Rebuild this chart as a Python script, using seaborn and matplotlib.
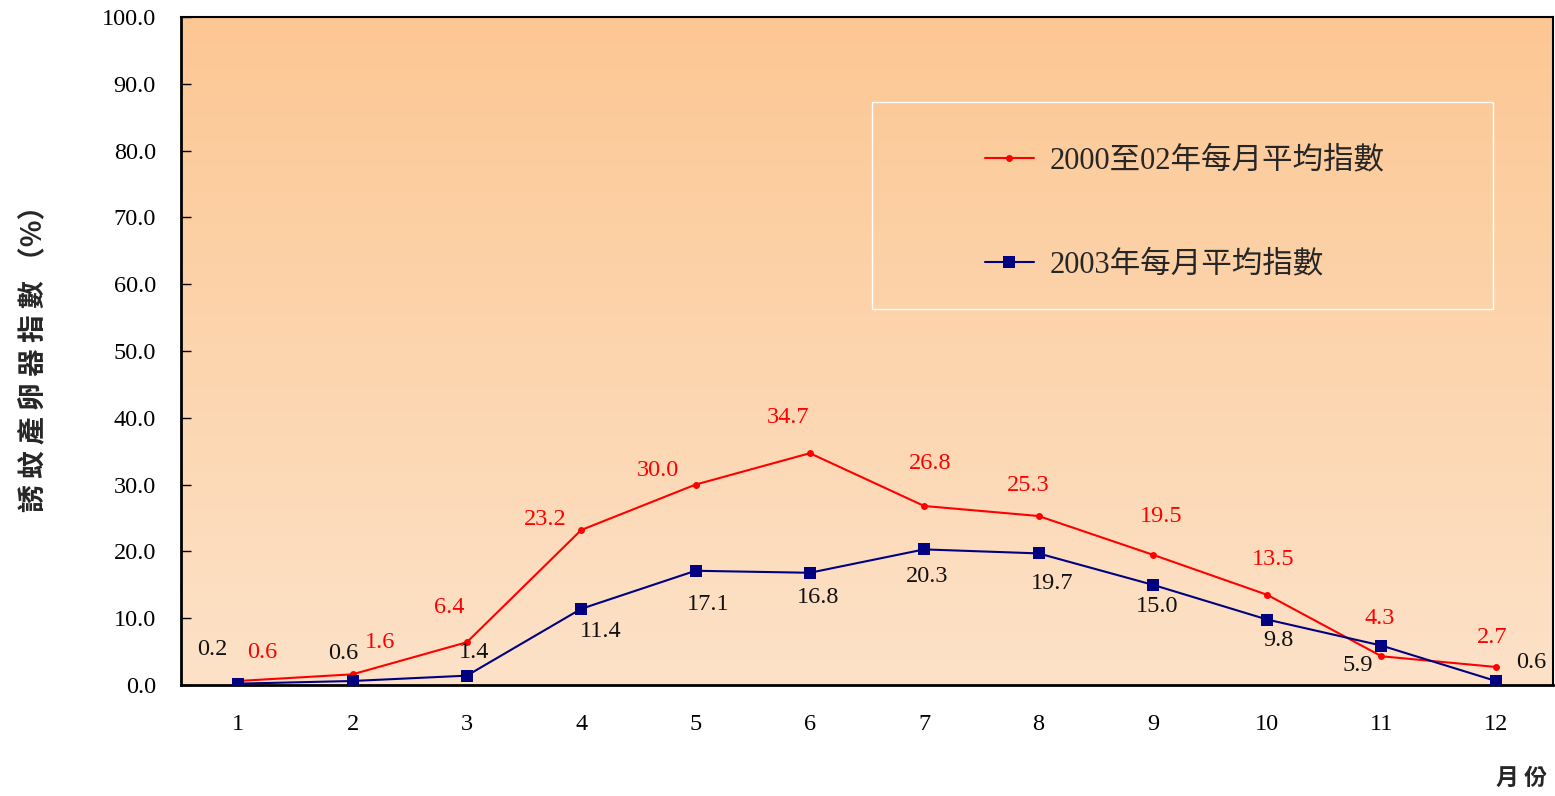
import numpy as np
import pandas as pd
import matplotlib
matplotlib.use("Agg")
import matplotlib.pyplot as plt
import seaborn as sns
from matplotlib.patches import Rectangle
from matplotlib.colors import LinearSegmentedColormap

months = [1, 2, 3, 4, 5, 6, 7, 8, 9, 10, 11, 12]
avg_2000_02 = [0.6, 1.6, 6.4, 23.2, 30.0, 34.7, 26.8, 25.3, 19.5, 13.5, 4.3, 2.7]
avg_2003 = [0.2, 0.6, 1.4, 11.4, 17.1, 16.8, 20.3, 19.7, 15.0, 9.8, 5.9, 0.6]
series_names = ["2000至02年每月平均指數", "2003年每月平均指數"]
y_ticks = [0, 10, 20, 30, 40, 50, 60, 70, 80, 90, 100]
y_label = "誘 蚊 產 卵 器 指 數 （%）"
x_label = "月 份"

# label offsets in pixels (style / layout)
red_off = [(24, 28), (28, 32), (-18, 35), (-36, 11), (-38, 14), (-22, 36),
           (6, 42), (-10, 30), (8, 38), (6, 35), (-2, 38), (-4, 29)]
blue_off = [(-26, 34), (-9, 27), (7, 23), (20, -23), (13, -34), (8, -25),
            (3, -27), (14, -30), (4, -22), (11, -21), (-24, -20), (35, 18)]

sns.set_style("ticks")
plt.rcParams['font.family'] = ['Liberation Serif', 'Noto Sans CJK TC', 'DejaVu Sans']

fig = plt.figure(figsize=(15.55, 7.96), dpi=100)
ax = fig.add_axes([181/1555, 1-685/796, (1553-181)/1555, (685-17)/796])

cmap = LinearSegmentedColormap.from_list("bg", ["#FDE2C8", "#FCC793"])
grad = np.linspace(0, 1, 256).reshape(-1, 1)
ax.imshow(grad, cmap=cmap, origin="lower", aspect="auto", extent=[0, 1, 0, 1],
          transform=ax.transAxes, zorder=0)

df = pd.DataFrame({"month": months, "a": avg_2000_02, "b": avg_2003})
sns.lineplot(data=df, x="month", y="a", ax=ax, color="#FF0000", marker="o",
             markersize=5, markeredgewidth=0, linewidth=1.5, label=series_names[0], zorder=3)
sns.lineplot(data=df, x="month", y="b", ax=ax, color="#000080", marker="s",
             markersize=8, markeredgewidth=0, linewidth=1.5, label=series_names[1], zorder=3)

for m, v, off in zip(months, avg_2000_02, red_off):
    ax.annotate(f"{v:.1f}", (m, v), xytext=off, textcoords="offset pixels",
                ha="center", va="center", color="#FF0000", fontsize=17.5, zorder=5)
for m, v, off in zip(months, avg_2003, blue_off):
    ax.annotate(f"{v:.1f}", (m, v), xytext=off, textcoords="offset pixels",
                ha="center", va="center", color="#111111", fontsize=17.5, zorder=5)

ax.set_xlim(0.5, 12.5)
ax.set_ylim(0, 100)
ax.set_xticks(months)
ax.set_xticklabels([str(m) for m in months])
ax.set_yticks(y_ticks)
ax.set_yticklabels([f"{t:.1f}" for t in y_ticks])
ax.tick_params(axis="y", direction="in", length=7, width=1, pad=18, labelsize=17.5, colors="black")
ax.tick_params(axis="x", length=0, pad=21, labelsize=17.5, colors="black")
ax.set_xlabel("")
ax.set_ylabel("")
for s in ax.spines.values():
    s.set_color("black")
    s.set_linewidth(1.5)
ax.spines["left"].set_linewidth(2)
ax.spines["bottom"].set_linewidth(2)

# legend frame
ax.add_patch(Rectangle(((872-181)/1372, (685-309)/668), (1493-872)/1372, (309-102)/668,
                       transform=ax.transAxes, fill=False, edgecolor="white", linewidth=1, zorder=4))
leg = ax.legend(loc="center left", bbox_to_anchor=((985-181)/1372, (685-213)/668), frameon=False,
                fontsize=22, borderpad=0, borderaxespad=0, handlelength=1.6,
                handletextpad=0.5, labelspacing=2.45)
for t in leg.get_texts():
    t.set_fontfamily(['Liberation Serif', 'Noto Sans CJK TC'])

fig.text(33/1555, 1-352/796, y_label, rotation=90, ha="center", va="center",
         fontsize=20, fontweight="bold", family=['Noto Sans CJK TC', 'DejaVu Sans'])
fig.text(1522/1555, 1-778/796, x_label, ha="center", va="center",
         fontsize=16.5, fontweight="bold", family=['Noto Sans CJK TC', 'DejaVu Sans'])

fig.savefig("out.png", dpi=100, facecolor="white")
